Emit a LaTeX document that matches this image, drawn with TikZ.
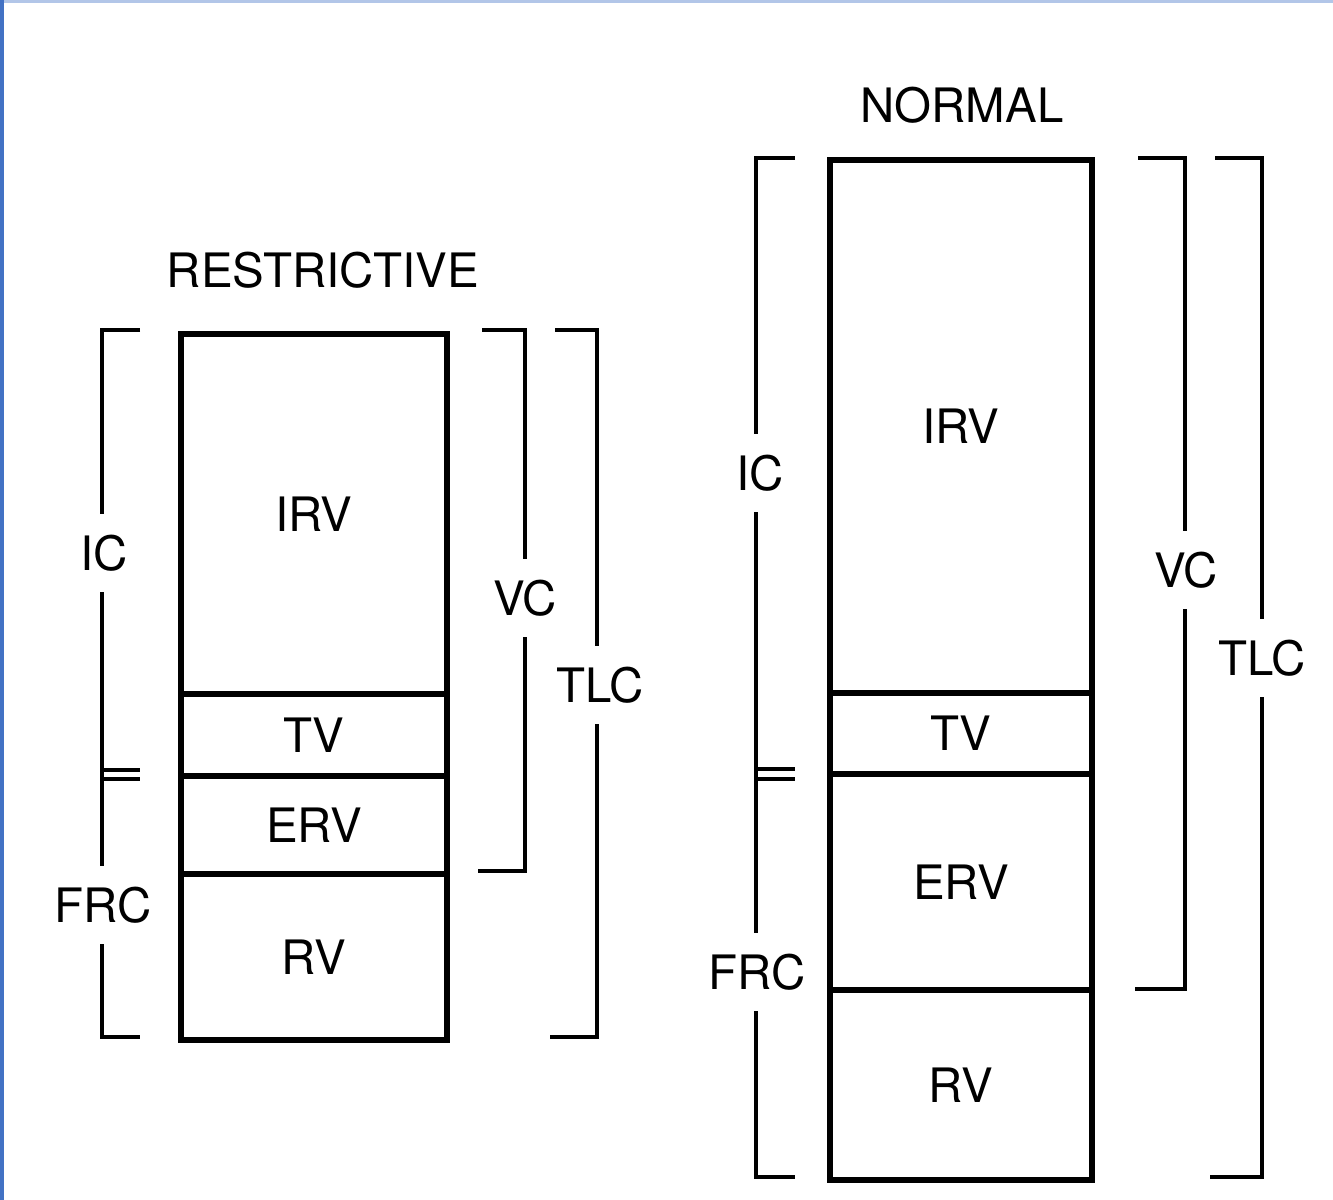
\documentclass[tikz,border=0pt]{standalone}
\usepackage{fontspec}
\setmainfont{TeX Gyre Heros}
\usetikzlibrary{positioning}

\definecolor{frameblue}{RGB}{66,114,196}
\definecolor{framelight}{RGB}{178,198,232}

\begin{document}
\begin{tikzpicture}[
    x=0.02cm, y=-0.02cm,
    vol/.style={rectangle, draw, line width=3.2pt, outer sep=0pt, inner sep=0pt},
    brak/.style={line width=2.4pt},
    lbl/.style={fill=white, inner xsep=2pt, inner ysep=0.42cm},
    every node/.style={font=\fontsize{27}{30}\selectfont}
]
\useasboundingbox (0,0) rectangle (1333,1200);

% Window frame
\draw[line width=2pt, framelight] (0,1) -- (1333,1);
\draw[line width=3pt, frameblue] (1.5,0) -- (1.5,1200);

% Restrictive volumes
\node (rtitle) at (323,270) {RESTRICTIVE};
\node[vol, minimum width=5.32cm, minimum height=7.2cm, anchor=north west] (rirv) at (181,334) {IRV};
\node[vol, minimum width=5.32cm, minimum height=1.64cm, below=0cm of rirv] (rtv) {TV};
\node[vol, minimum width=5.32cm, minimum height=1.96cm, below=0cm of rtv] (rerv) {ERV};
\node[vol, minimum width=5.32cm, minimum height=3.32cm, below=0cm of rerv] (rrv) {RV};

% Restrictive brackets
\draw[brak] (140,330) -- (102,330) -- (102,1037) -- (140,1037);
\draw[brak] (102,770) -- (140,770) (102,779) -- (140,779);
\draw[brak] (482,330) -- (525,330) -- (525,871) -- (478,871);
\draw[brak] (555,330) -- (597,330) -- (597,1037) -- (550,1037);
\node[lbl] (ric) at (104,553) {IC};
\node[lbl] (rfrc) at (103,905) {FRC};
\node[lbl] (rvc) at (525,598) {VC};
\node[lbl] (rtlc) at (600,685) {TLC};

% Normal volumes
\node (ntitle) at (962,105) {NORMAL};
\node[vol, minimum width=5.24cm, minimum height=10.66cm, anchor=north west] (nirv) at (830,160) {IRV};
\node[vol, minimum width=5.24cm, minimum height=1.62cm, below=0cm of nirv] (ntv) {TV};
\node[vol, minimum width=5.24cm, minimum height=4.32cm, below=0cm of ntv] (nerv) {ERV};
\node[vol, minimum width=5.24cm, minimum height=3.8cm, below=0cm of nerv] (nrv) {RV};

% Normal brackets
\draw[brak] (795,158) -- (756,158) -- (756,1177) -- (795,1177);
\draw[brak] (756,769) -- (795,769) (756,779) -- (795,779);
\draw[brak] (1138,158) -- (1185,158) -- (1185,989) -- (1135,989);
\draw[brak] (1215,158) -- (1262,158) -- (1262,1177) -- (1210,1177);
\node[lbl] (nic) at (760,473) {IC};
\node[lbl] (nfrc) at (757,972) {FRC};
\node[lbl] (nvc) at (1186,570) {VC};
\node[lbl] (ntlc) at (1262,658) {TLC};

\end{tikzpicture}
\end{document}
